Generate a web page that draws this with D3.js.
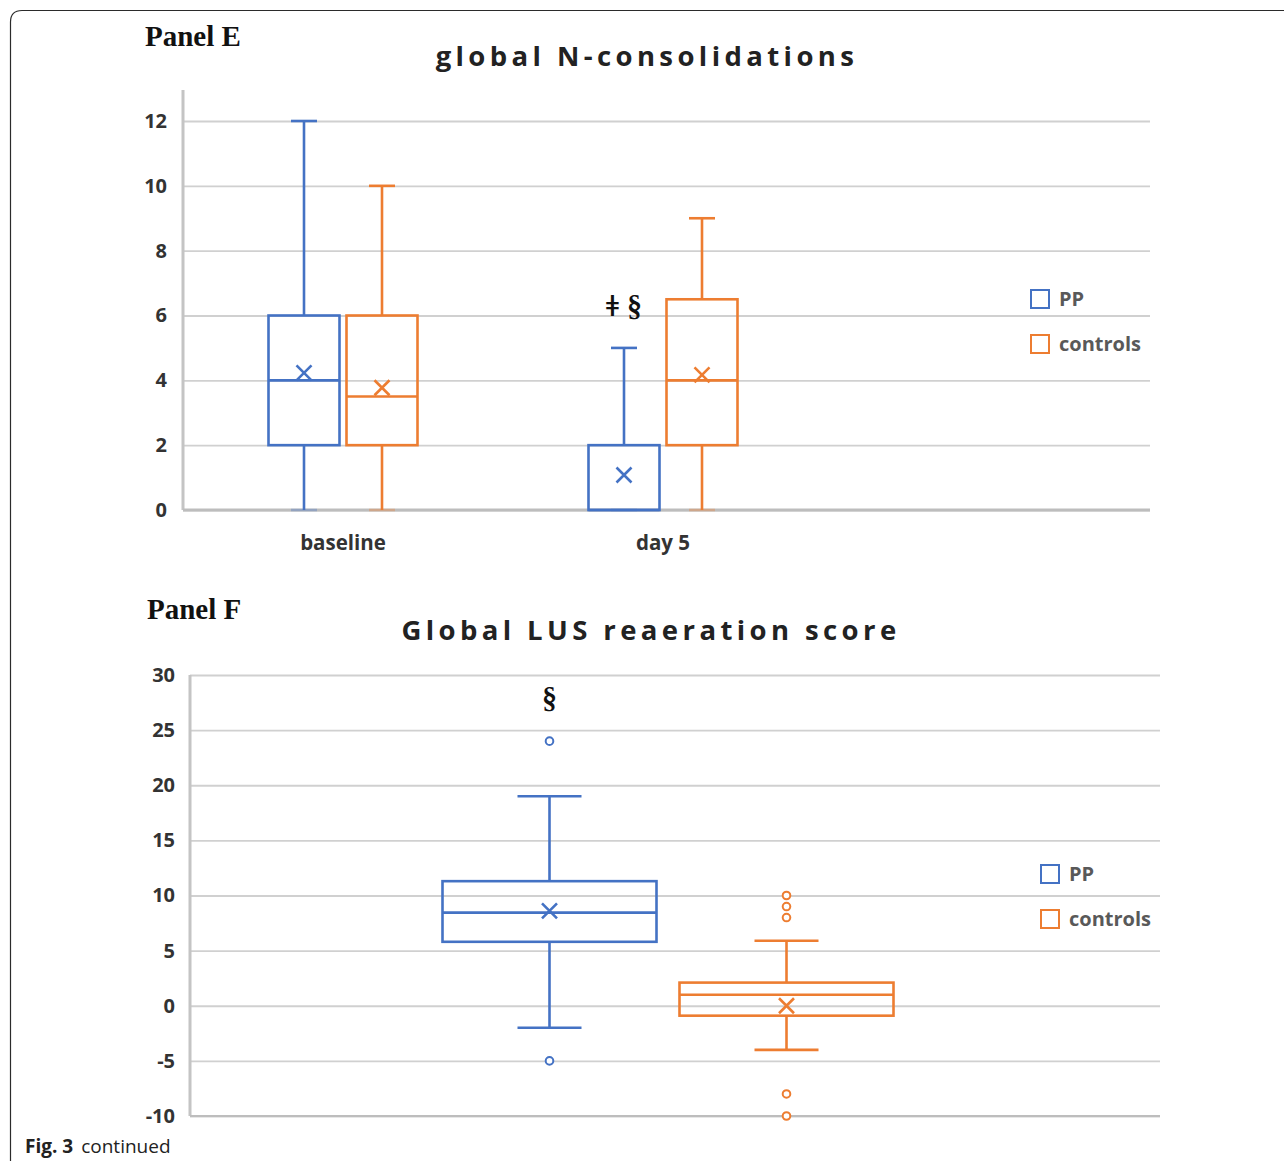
<!DOCTYPE html>
<html><head><meta charset="utf-8">
<script src="https://cdn.jsdelivr.net/npm/d3@7"></script>
<style>
body{margin:0;background:#fff;}
svg{display:block;}
</style></head>
<body>
<svg id="chart" width="1284" height="1161"></svg>
<script>
// ---------- DATA ----------
const seriesNames = ["PP", "controls"];
const seriesColors = ["#4472C4", "#ED7D31"];

const panelECategories = ["baseline", "day 5"];
const panelETicks = [0, 2, 4, 6, 8, 10, 12];
const panelE_PP = [
  {cat: "baseline", min: 0, q1: 2, median: 4, q3: 6, max: 12, mean: 4.23, outliers: []},
  {cat: "day 5",    min: 0, q1: 0, median: 0, q3: 2, max: 5,  mean: 1.08, outliers: []}
];
const panelE_controls = [
  {cat: "baseline", min: 0, q1: 2, median: 3.5, q3: 6,   max: 10, mean: 3.77, outliers: []},
  {cat: "day 5",    min: 0, q1: 2, median: 4,   q3: 6.5, max: 9,  mean: 4.17, outliers: []}
];
const panelEAnnotations = [{cat: "day 5", series: "PP", value: 6, parts: ["ǂ", "§"]}];

const panelFCategories = [""];
const panelFTicks = [-10, -5, 0, 5, 10, 15, 20, 25, 30];
const panelF_PP = [
  {cat: "", min: -2, q1: 5.8, median: 8.45, q3: 11.3, max: 19, mean: 8.6, outliers: [24, -5]}
];
const panelF_controls = [
  {cat: "", min: -4, q1: -0.9, median: 1, q3: 2.1, max: 5.9, mean: 0, outliers: [10, 9, 8, -8, -10]}
];
const panelFAnnotations = [{cat: "", series: "PP", value: 27, parts: ["§"]}];

// ---------- DRAW ----------
const svg = d3.select("#chart");
const sans = "'Open Sans', 'Noto Sans', sans-serif";
const serif = "'Liberation Serif', 'DejaVu Serif', serif";

svg.append("path")
  .attr("d", "M10.5,1161 L10.5,22 Q10.5,10.5 22,10.5 L1284,10.5")
  .attr("fill", "none").attr("stroke", "#2b2b2b").attr("stroke-width", 1.2);

svg.append("text").attr("x", 25).attr("y", 1153)
  .attr("font-family", sans).attr("font-size", 19).attr("fill", "#222")
  .call(t => { t.append("tspan").attr("font-weight", "bold").text("Fig. 3");
               t.append("tspan").attr("dx", 8).text("continued"); });

function drawPanel(cfg) {
  const g = svg.append("g");
  const y = d3.scaleLinear().domain(cfg.yDomain).range([cfg.bottom, cfg.top]);
  const x = d3.scaleBand().domain(cfg.categories).range([cfg.left, cfg.left + cfg.bandW * cfg.categories.length]).padding(0);
  const sOff = d3.scalePoint().domain(seriesNames).range([-(cfg.boxW + cfg.gap) / 2, (cfg.boxW + cfg.gap) / 2]);
  const centerOf = (cat, name) => x(cat) + x.bandwidth() / 2 + sOff(name);

  g.append("text").attr("x", cfg.panelX).attr("y", cfg.panelY)
    .attr("font-family", serif).attr("font-weight", "bold").attr("font-size", 29).attr("fill", "#111")
    .text(cfg.panelLabel);
  g.append("text").attr("x", cfg.titleX).attr("y", cfg.titleY).attr("text-anchor", "middle")
    .attr("font-family", sans).attr("font-weight", "bold").attr("font-size", 27.5)
    .attr("letter-spacing", "4.4px").attr("fill", "#222")
    .text(cfg.title);

  const grid = d3.axisLeft(y).tickValues(cfg.ticks).tickSize(-(cfg.right - cfg.left)).tickFormat("");
  g.append("g").attr("transform", `translate(${cfg.left},0)`).call(grid)
    .call(a => a.select(".domain").remove())
    .call(a => a.selectAll("line").attr("stroke", "#d0d0d0").attr("stroke-width", 1.8));

  g.append("line").attr("x1", cfg.left).attr("x2", cfg.left)
    .attr("y1", cfg.axisTop).attr("y2", cfg.bottom)
    .attr("stroke", "#c4c4c4").attr("stroke-width", 3);
  g.append("line").attr("x1", cfg.left).attr("x2", cfg.right)
    .attr("y1", cfg.bottom).attr("y2", cfg.bottom)
    .attr("stroke", "#bdbdbd").attr("stroke-width", cfg.bottomW);

  const yAxis = d3.axisLeft(y).tickValues(cfg.ticks).tickSize(0).tickPadding(cfg.tickPad).tickFormat(d => String(d));
  g.append("g").attr("transform", `translate(${cfg.left},0)`).call(yAxis)
    .call(a => a.select(".domain").remove())
    .call(a => a.selectAll("text").attr("font-family", sans).attr("font-weight", "bold")
      .attr("font-size", 20).attr("fill", "#333"));

  if (cfg.showCats) {
    const xAxis = d3.axisBottom(x).tickSize(0).tickPadding(25);
    g.append("g").attr("transform", `translate(0,${cfg.bottom})`).call(xAxis)
      .call(a => a.select(".domain").remove())
      .call(a => a.selectAll("text").attr("font-family", sans).attr("font-weight", "bold")
        .attr("font-size", 20.5).attr("fill", "#333"));
  }

  cfg.series.forEach((data, si) => {
    const name = seriesNames[si], col = seriesColors[si];
    data.forEach(d => {
      const cx = centerOf(d.cat, name), w = cfg.boxW, x0 = cx - w / 2;
      const bg = g.append("g").attr("stroke", col).attr("fill", "none").attr("stroke-width", 2.6);
      bg.append("line").attr("x1", cx).attr("x2", cx).attr("y1", y(d.max)).attr("y2", y(d.q3));
      bg.append("line").attr("x1", cx).attr("x2", cx).attr("y1", y(d.q1)).attr("y2", y(d.min));
      bg.append("line").attr("x1", cx - cfg.capW / 2).attr("x2", cx + cfg.capW / 2).attr("y1", y(d.max)).attr("y2", y(d.max));
      bg.append("line").attr("x1", cx - cfg.capW / 2).attr("x2", cx + cfg.capW / 2).attr("y1", y(d.min)).attr("y2", y(d.min))
        .attr("stroke-opacity", d.min === cfg.yDomain[0] ? 0.35 : 1);
      bg.append("rect").attr("x", x0).attr("y", y(d.q3)).attr("width", w).attr("height", y(d.q1) - y(d.q3));
      bg.append("line").attr("x1", x0).attr("x2", x0 + w).attr("y1", y(d.median)).attr("y2", y(d.median));
      const m = 7.5, my = y(d.mean);
      bg.append("path").attr("d", `M${cx - m},${my - m}L${cx + m},${my + m}M${cx - m},${my + m}L${cx + m},${my - m}`);
      d.outliers.forEach(o => {
        bg.append("circle").attr("cx", cx).attr("cy", y(o)).attr("r", 3.8).attr("stroke-width", 2).attr("fill", "#fff");
      });
    });
  });

  cfg.annotations.forEach(a => {
    const t = g.append("text").attr("x", centerOf(a.cat, a.series)).attr("y", y(a.value)).attr("text-anchor", "middle")
      .attr("font-family", serif).attr("font-weight", "bold").attr("font-size", 30).attr("fill", "#111");
    a.parts.forEach((p, i) => {
      const ts = t.append("tspan").text(p);
      if (i > 0) ts.attr("dx", 8);
      if (p === "ǂ") ts.attr("font-family", "'DejaVu Serif', serif").attr("font-size", 28);
    });
  });

  seriesNames.forEach((n, i) => {
    const ly = cfg.legendY + i * 45;
    g.append("rect").attr("x", cfg.legendX).attr("y", ly - 9).attr("width", 18).attr("height", 18)
      .attr("fill", "none").attr("stroke", seriesColors[i]).attr("stroke-width", 2);
    g.append("text").attr("x", cfg.legendX + 28).attr("y", ly + 7)
      .attr("font-family", sans).attr("font-weight", "bold").attr("font-size", 20).attr("fill", "#595959")
      .text(n);
  });
}

drawPanel({
  panelLabel: "Panel E", panelX: 145, panelY: 46,
  title: "global N-consolidations", titleX: 647, titleY: 66,
  categories: panelECategories, yDomain: [0, 12], ticks: panelETicks,
  left: 183, right: 1150, top: 121, bottom: 510, axisTop: 90, bottomW: 3,
  bandW: 320, boxW: 71, gap: 7, capW: 26, tickPad: 16,
  showCats: true, series: [panelE_PP, panelE_controls], annotations: panelEAnnotations,
  legendX: 1031, legendY: 299
});

drawPanel({
  panelLabel: "Panel F", panelX: 147, panelY: 619,
  title: "Global LUS reaeration score", titleX: 651, titleY: 640,
  categories: panelFCategories, yDomain: [-10, 30], ticks: panelFTicks,
  left: 190, right: 1160, top: 675, bottom: 1116, axisTop: 675, bottomW: 2,
  bandW: 956, boxW: 214, gap: 23, capW: 64, tickPad: 15,
  showCats: false, series: [panelF_PP, panelF_controls], annotations: panelFAnnotations,
  legendX: 1041, legendY: 874
});
</script>
</body></html>
